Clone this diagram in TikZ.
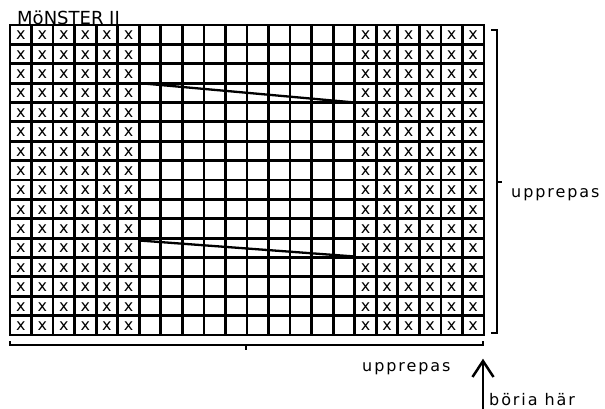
\documentclass[tikz,border=0pt]{standalone}
\usepackage{fontspec}
\setmainfont{DejaVu Sans}
\newfontfamily\labelfont[LetterSpace=12]{DejaVu Sans}
\begin{document}
\begin{tikzpicture}[x=1pt,y=-1pt,
  gridline/.style={line width=2.8pt, line cap=rect},
  xmark/.style={inner sep=0pt, font=\fontsize{16}{16}\selectfont},
  bracket/.style={line width=2.4pt},
  diag/.style={line width=2.3pt},
  lbl/.style={inner sep=0pt, anchor=base west, font=\labelfont\fontsize{16}{16}\selectfont}]
\useasboundingbox (0,0) rectangle (605,409);
\node[inner sep=0pt, anchor=base west, font=\fontsize{18}{18}\selectfont] (title) at (17,24.2) {MöNSTER II};
\fill[white] (10,25) rectangle (484,335);
\foreach \i in {0,...,22} \draw[gridline] ({10+\i*21.545},25) -- ({10+\i*21.545},335);
\foreach \j in {0,...,16} \draw[gridline] (10,{25+\j*19.375}) -- (484,{25+\j*19.375});
\foreach \c in {0,...,5,16,17,18,19,20,21}
  \foreach \r in {0,...,15}
    \node[xmark] (x-\c-\r) at ({10+(\c+0.5)*21.545},{25+(\r+0.5)*19.375+0.8}) {x};
% diagonal lines
\coordinate (d1a) at (139.3,83.1);
\coordinate (d1b) at (354.7,102.5);
\coordinate (d2a) at (139.3,240.5);
\coordinate (d2b) at (354.7,256.5);
\draw[diag] (d1a) -- (d1b);
\draw[diag] (d2a) -- (d2b);
% right bracket
\coordinate (rb1) at (491,30);
\coordinate (rb2) at (497,30);
\coordinate (rb3) at (497,333);
\coordinate (rb4) at (491,333);
\coordinate (rbm) at (497,182);
\coordinate (rbt) at (502,182);
\draw[bracket] (rb1) -- (rb2) -- (rb3) -- (rb4);
\draw[bracket] (rbm) -- (rbt);
\node[lbl] (rlabel) at (511,197) {upprepas};
% bottom bracket
\coordinate (bb1) at (10,341);
\coordinate (bb2) at (10,345);
\coordinate (bb3) at (483,345);
\coordinate (bb4) at (483,341);
\coordinate (bbm) at (246,345);
\coordinate (bbt) at (246,350);
\draw[bracket] (bb1) -- (bb2) -- (bb3) -- (bb4);
\draw[bracket] (bbm) -- (bbt);
\node[lbl] (blabel) at (362,371) {upprepas};
% start arrow
\coordinate (ar0) at (483,409);
\coordinate (ar1) at (483,361);
\coordinate (arl) at (472.5,377);
\coordinate (arr) at (493.5,377);
\draw[line width=2.5pt] (ar0) -- (ar1);
\draw[line width=2.5pt, line join=miter] (arl) -- (ar1) -- (arr);
\node[lbl] (start) at (489,405.5) {böria här};
\end{tikzpicture}
\end{document}
